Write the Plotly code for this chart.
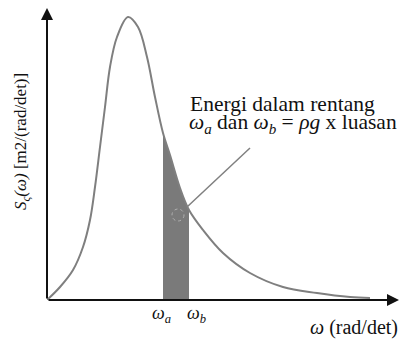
import plotly.graph_objects as go

# Spectrum curve (omega in rad/det, S in m2/(rad/det), arbitrary scale)
omega = [0.00, 0.13, 0.26, 0.36, 0.43, 0.48, 0.53, 0.58, 0.63, 0.70, 0.81, 0.91,
         1.00, 1.08, 1.16, 1.23, 1.33, 1.42, 1.56, 1.76, 2.03, 2.36, 2.70, 3.03, 3.23]
spec = [0.00, 0.13, 0.30, 0.53, 0.80, 1.13, 1.53, 1.93, 2.33, 2.63, 2.83, 2.73,
        2.43, 2.03, 1.67, 1.45, 1.12, 0.90, 0.70, 0.47, 0.27, 0.13, 0.07, 0.03, 0.02]
omega_a = 1.16
omega_b = 1.42
x_max = 3.53
y_max = 2.92

label_a = "<i>ω</i><sub><i>a</i></sub>"
label_b = "<i>ω</i><sub><i>b</i></sub>"
note_line1 = "Energi dalam rentang"
note_line2 = "<i>ω</i><sub><i>a</i></sub> dan <i>ω</i><sub><i>b</i></sub> = <i>ρg</i> x luasan"
y_title = "<i>S</i><sub><i>ς</i></sub><i>(ω)</i> [m2/(rad/det)]"
x_title = "<i>ω</i> (rad/det)"

SERIF = "Liberation Serif"

shade_x = [w for w in omega if omega_a <= w <= omega_b]
shade_y = [s for w, s in zip(omega, spec) if omega_a <= w <= omega_b]

fig = go.Figure()
fig.add_trace(go.Scatter(x=shade_x, y=shade_y, mode="lines", fill="tozeroy",
                         line=dict(color="#7a7a7a", width=0, shape="spline"),
                         fillcolor="#7a7a7a", hoverinfo="skip"))
fig.add_trace(go.Scatter(x=omega, y=spec, mode="lines",
                         line=dict(color="#7f7f7f", width=2, shape="spline", smoothing=1),
                         hoverinfo="skip"))

fig.update_layout(
    width=401, height=340,
    margin=dict(l=47, r=1, t=8, b=40),
    paper_bgcolor="white", plot_bgcolor="white",
    showlegend=False,
    xaxis=dict(range=[0, x_max], showgrid=False, zeroline=False, showticklabels=False,
               showline=False, ticks=""),
    yaxis=dict(range=[0, y_max], showgrid=False, zeroline=False, showticklabels=False,
               showline=False, ticks=""),
    font=dict(family=SERIF, color="#111111"),
)

# pointer line and faint dashed circle
fig.add_shape(type="line", x0=1.40, y0=0.93, x1=2.03, y1=1.52,
              line=dict(color="#808080", width=1.5))
fig.add_shape(type="circle", x0=1.25, y0=0.79, x1=1.37, y1=0.91,
              line=dict(color="#b0b0b0", width=1, dash="dot"))

# axes with arrows
fig.add_annotation(x=0, y=y_max, ax=0, ay=292, axref="pixel", ayref="pixel",
                   xref="x", yref="y", showarrow=True, arrowhead=2, arrowsize=1.2,
                   arrowwidth=2, arrowcolor="#111111", text="")
fig.add_annotation(x=x_max - 0.01, y=0, ax=-352, ay=0, xref="x", yref="y",
                   showarrow=True, arrowhead=2, arrowsize=1.2,
                   arrowwidth=2, arrowcolor="#111111", text="")

# omega labels
fig.add_annotation(x=omega_a, y=0, xref="x", yref="y", text=label_a, showarrow=False,
                   xanchor="center", yanchor="middle", yshift=-14, xshift=-2,
                   font=dict(size=18, family=SERIF))
fig.add_annotation(x=omega_b, y=0, xref="x", yref="y", text=label_b, showarrow=False,
                   xanchor="center", yanchor="middle", yshift=-14, xshift=7,
                   font=dict(size=18, family=SERIF))

# note text
fig.add_annotation(x=1.41, y=1.96, xref="x", yref="y", text=note_line1, showarrow=False,
                   xanchor="left", yanchor="middle", font=dict(size=21.5, family=SERIF))
fig.add_annotation(x=1.40, y=1.77, xref="x", yref="y", text=note_line2, showarrow=False,
                   xanchor="left", yanchor="middle", font=dict(size=21.5, family=SERIF))

# axis titles
fig.add_annotation(x=0, y=0.5, xref="paper", yref="paper", text=y_title, showarrow=False,
                   textangle=-90, xanchor="center", yanchor="middle", xshift=-25, yshift=12,
                   font=dict(size=17, family=SERIF))
fig.add_annotation(x=1, y=0, xref="paper", yref="paper", text=x_title, showarrow=False,
                   xanchor="right", yanchor="middle", yshift=-27,
                   font=dict(size=20, family=SERIF))

fig.write_html("out.html", config={"displayModeBar": False},
               post_script="document.body.style.margin='0';document.body.style.padding='0';")
